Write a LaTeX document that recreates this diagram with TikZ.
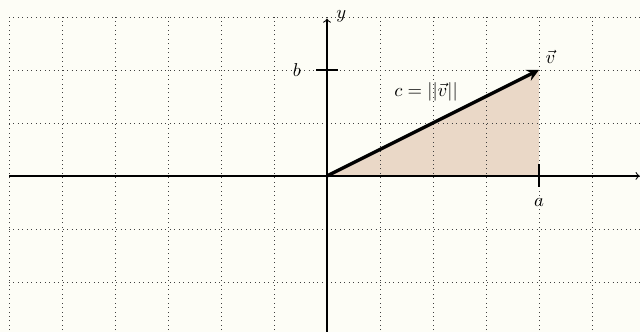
\documentclass[tikz,border=0pt]{standalone}
\usepackage{amsmath,amssymb}
\usepackage{xcolor}
\usepackage{tikz}
\usetikzlibrary{calc}
\definecolor{paper}{RGB}{253,253,246}
\definecolor{wedge}{RGB}{234,216,199}

\begin{document}
\begin{tikzpicture}
  \useasboundingbox (-6.17,-2.94) rectangle (5.906,3.32);
  \fill[paper] (-6.17,-2.94) rectangle (5.906,3.32);
  \clip (-6.17,-2.94) rectangle (5.906,3.32);
  \coordinate (O) at (0,0);
  \coordinate (A) at (4,0);
  \coordinate (B) at (0,2);
  \coordinate (V) at (4,2);
  \fill[wedge] (O) -- (A) -- (V) -- cycle;
  \draw[dotted, black!75] (-6,-3.5) grid (6.5,3);
  \draw[semithick,->] (-6,0) -- (5.9,0);
  \draw[semithick,->] (0,-3.2) -- (0,2.97);
  \node (xlab) at (6.02,0.28) {$x$};
  \node (ylab) at (0.27,3.02) {$y$};
  \draw[thick] (4,0.22) -- (4,-0.2);
  \draw[thick] (-0.2,2) -- (0.2,2);
  \node (alab) at (4,-0.5) {$a$};
  \node (blab) at (-0.57,2) {$b$};
  \draw[line width=1.8pt,-stealth] (O) -- (V);
  \node[above right] (vlab) at (V) {$\vec{v}$};
  \node (clab) at (1.87,1.58) {$c=||\vec{v}||$};
\end{tikzpicture}
\end{document}
